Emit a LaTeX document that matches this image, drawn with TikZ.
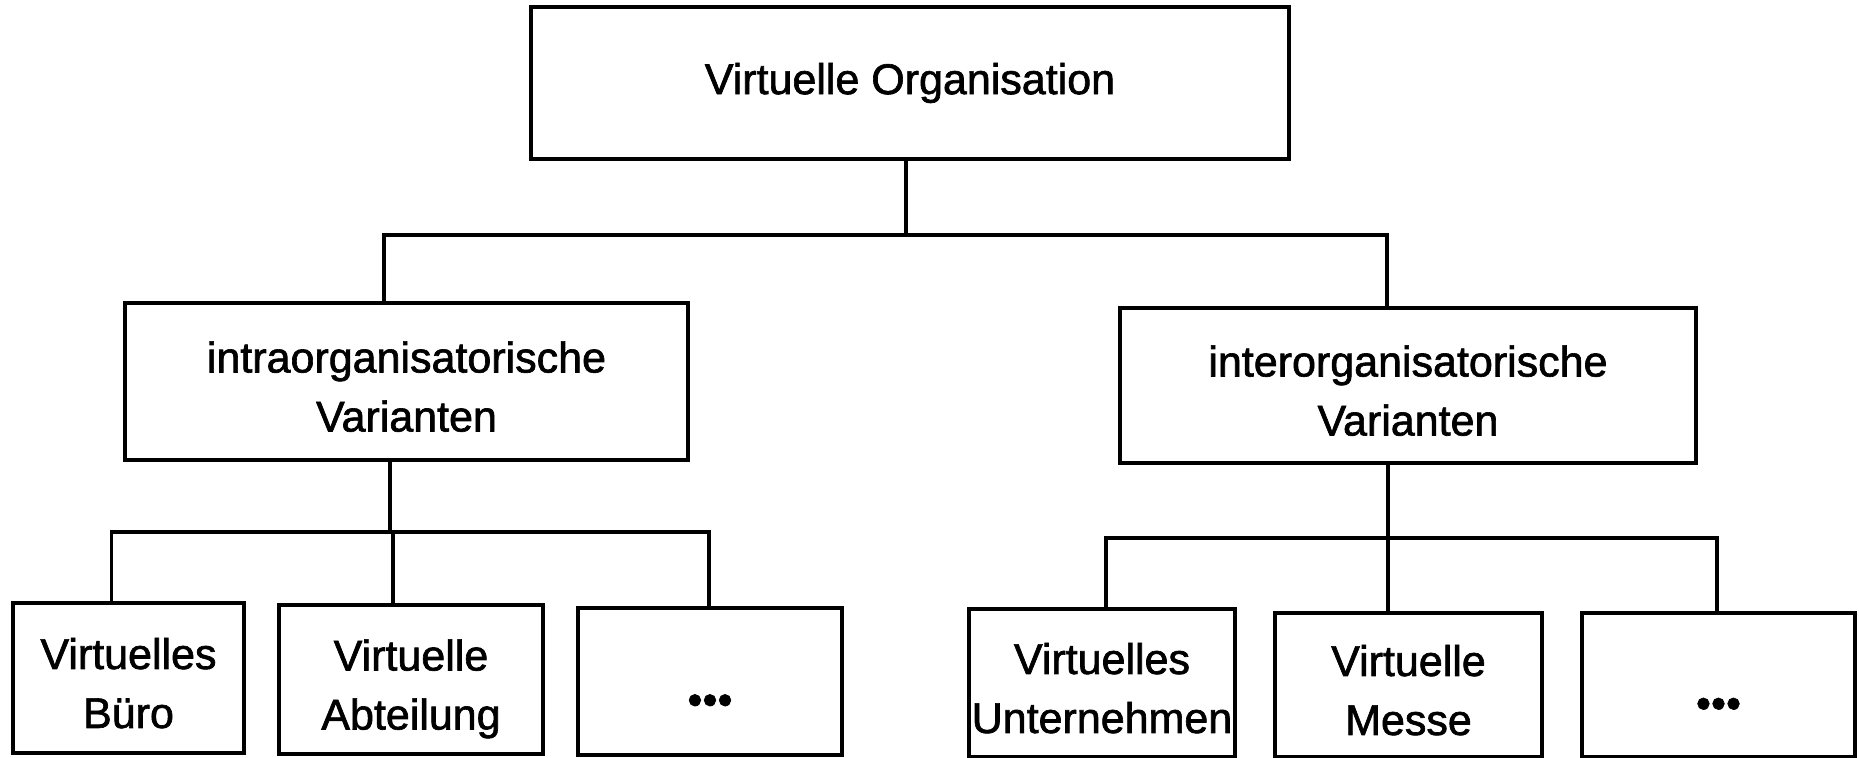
\documentclass[tikz,border=0pt]{standalone}
\usepackage{fontspec}
\setmainfont{Liberation Sans}[FakeBold=1.5]
\usepackage{tikz}

\tikzset{
    orgbox/.style = {draw, line width = 2.2pt, align = center, inner sep = 0pt},
    twoline/.style = {text height = 50pt, text depth = 0pt},
    link/.style = {line width = 1.8pt}
}
\newcommand{\orgdots}{\smash{\raisebox{-16.5pt}{•••}}}

\begin{document}
\begin{tikzpicture}[x = 0.5pt, y = -0.5pt, font = \fontsize{21.5}{29.5}\selectfont]
        \useasboundingbox (0,0) rectangle (1859,758);

        % obere Ebenen
        \node[orgbox, minimum width = 379pt, minimum height = 76pt] (vo) at (910,83) {Virtuelle Organisation};
        \node[orgbox, twoline, minimum width = 281.5pt, minimum height = 78.5pt] (intra) at (406.5,381.5) {intraorganisatorische\\Varianten};
        \node[orgbox, twoline, minimum width = 288pt, minimum height = 77.5pt] (inter) at (1408,385.5) {interorganisatorische\\Varianten};

        % untere Ebene
        \node[orgbox, twoline, minimum width = 115.5pt, minimum height = 75pt] (buero) at (128.5,678) {Virtuelles\\Büro};
        \node[orgbox, twoline, minimum width = 132pt, minimum height = 74.5pt] (abt) at (411,679.5) {Virtuelle\\Abteilung};
        \node[orgbox, minimum width = 132pt, minimum height = 73.5pt] (dotsl) at (710,681.5) {\orgdots};
        \node[orgbox, twoline, minimum width = 133pt, minimum height = 74pt] (unt) at (1102,683) {Virtuelles\\Unternehmen};
        \node[orgbox, twoline, minimum width = 133.5pt, minimum height = 72pt] (messe) at (1408.5,685) {Virtuelle\\Messe};
        \node[orgbox, minimum width = 136.5pt, minimum height = 72pt] (dotsr) at (1718.5,685) {\orgdots};

        \coordinate (j0) at (906,235);
        \coordinate (j0l) at (384,235);
        \coordinate (j0r) at (1387,235);
        \coordinate (j1) at (390,532);
        \coordinate (j1l) at (111.5,532);
        \coordinate (j1m) at (393,532);
        \coordinate (j1r) at (709,532);
        \coordinate (j2) at (1388,538);
        \coordinate (j2l) at (1106,538);
        \coordinate (j2r) at (1717,538);

        \draw[link] (vo.south -| j0) -- (j0);
        \draw[link] (j0l |- intra.north) -- (j0l) -- (j0r) -- (j0r |- inter.north);

        \draw[link] (intra.south -| j1) -- (j1);
        \draw[link] (j1l |- buero.north) -- (j1l) -- (j1r) -- (j1r |- dotsl.north);
        \draw[link] (j1m) -- (j1m |- abt.north);

        \draw[link] (inter.south -| j2) -- (j2);
        \draw[link] (j2l |- unt.north) -- (j2l) -- (j2r) -- (j2r |- dotsr.north);
        \draw[link] (j2) -- (j2 |- messe.north);
    \end{tikzpicture}
\end{document}
